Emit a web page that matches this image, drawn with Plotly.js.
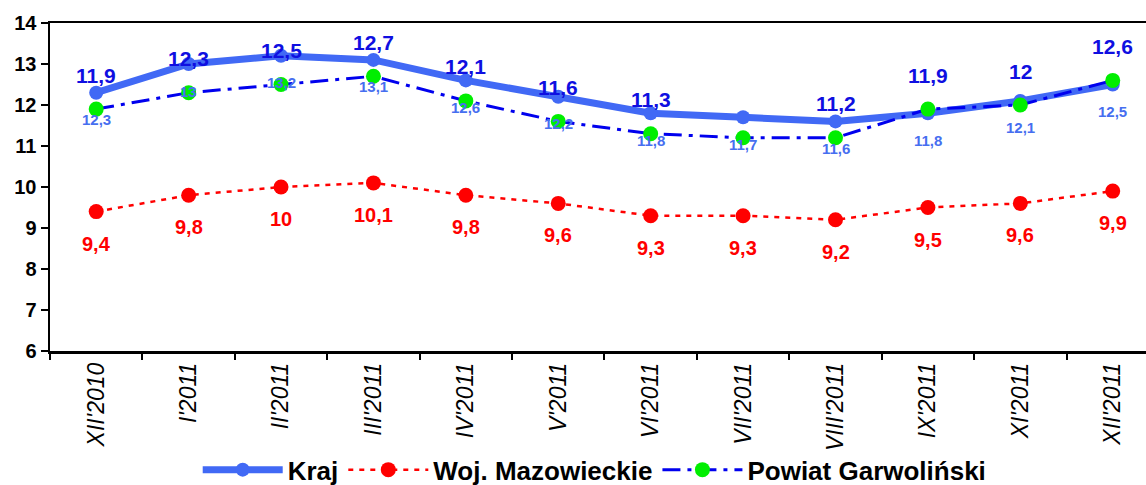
<!DOCTYPE html>
<html>
<head>
<meta charset="utf-8">
<script src="https://cdn.plot.ly/plotly-3.0.1.min.js"></script>
<style>html,body{margin:0;padding:0;background:#fff;}#chart{width:1146px;height:485px;}</style>
</head>
<body>
<div id="chart"></div>
<script>
const categories = ["XII'2010","I'2011","II'2011","III'2011","IV'2011","V'2011","VI'2011","VII'2011","VIII'2011","IX'2011","XI'2011","XII'2011"];
const kraj = [12.3, 13.0, 13.2, 13.1, 12.6, 12.2, 11.8, 11.7, 11.6, 11.8, 12.1, 12.5];
const wojMazowieckie = [9.4, 9.8, 10.0, 10.1, 9.8, 9.6, 9.3, 9.3, 9.2, 9.5, 9.6, 9.9];
const powiatGarwolinski = [11.9, 12.3, 12.5, 12.7, 12.1, 11.6, 11.3, 11.2, 11.2, 11.9, 12.0, 12.6];
// the reference shows no value label for Powiat at VII'2011
const powiatLabelShown = [true, true, true, true, true, true, true, false, true, true, true, true];
const seriesNames = ["Kraj", "Woj. Mazowieckie", "Powiat Garwoliński"];

const fmt = v => String(v).replace('.', ',');
const FONT = 'Arial, "Liberation Sans", sans-serif';

const traces = [
  {
    x: categories, y: kraj, name: seriesNames[0], type: 'scatter', mode: 'lines+markers',
    line: {color: 'rgb(65,105,245)', width: 7},
    marker: {color: 'rgb(65,105,245)', size: 14}
  },
  {
    x: categories, y: wojMazowieckie, name: seriesNames[1], type: 'scatter', mode: 'lines+markers',
    line: {color: '#ff0000', width: 2.5, dash: '5px,6px'},
    marker: {color: '#ff0000', size: 15}
  },
  {
    x: categories, y: powiatGarwolinski, name: seriesNames[2], type: 'scatter', mode: 'lines+markers',
    line: {color: '#0000ee', width: 3, dash: '18px,7px,4px,7px'},
    marker: {color: 'rgb(0,238,0)', size: 15}
  }
];

const annotations = [];
categories.forEach((c, i) => {
  if (powiatLabelShown[i]) {
    annotations.push({x: c, y: powiatGarwolinski[i], text: fmt(powiatGarwolinski[i]), showarrow: false, yshift: 34,
      font: {family: FONT, size: 21, weight: 'bold', color: 'rgb(15,15,225)'}});
  }
  annotations.push({x: c, y: kraj[i], text: fmt(kraj[i]), showarrow: false, yshift: -27,
    font: {family: FONT, size: 15, weight: 'bold', color: 'rgb(70,110,240)'}});
  annotations.push({x: c, y: wojMazowieckie[i], text: fmt(wojMazowieckie[i]), showarrow: false, yshift: -32,
    font: {family: FONT, size: 20, weight: 'bold', color: '#ff0000'}});
});

const layout = {
  width: 1146, height: 485,
  margin: {l: 50, r: 0, t: 23, b: 134, autoexpand: false},
  paper_bgcolor: '#fff', plot_bgcolor: '#fff',
  font: {family: FONT, color: '#000'},
  showlegend: true,
  legend: {
    orientation: 'h', x: 0.497, xanchor: 'center', y: -0.362, yanchor: 'middle',
    font: {family: FONT, size: 26, weight: 'bold', color: '#000'},
    itemwidth: 80, traceorder: 'normal', bgcolor: 'rgba(0,0,0,0)'
  },
  xaxis: {
    type: 'category', range: [-0.5, 11.36], showgrid: false, zeroline: false,
    showline: true, linecolor: '#000', linewidth: 2.5, mirror: true,
    ticks: 'outside', tickson: 'boundaries', ticklen: 6, tickwidth: 2, tickcolor: '#000',
    tickangle: -90, tickfont: {family: FONT, size: 23, style: 'italic', color: '#000'}
  },
  yaxis: {
    range: [6, 14], dtick: 1, showgrid: false, zeroline: false,
    showline: true, linecolor: '#000', linewidth: 2.5,
    ticks: 'outside', ticklen: 7, tickwidth: 2, tickcolor: '#000',
    tickfont: {family: FONT, size: 20, weight: 'bold', color: '#000'}
  },
  annotations: annotations
};

Plotly.newPlot('chart', traces, layout, {displayModeBar: false, staticPlot: true});
</script>
</body>
</html>
